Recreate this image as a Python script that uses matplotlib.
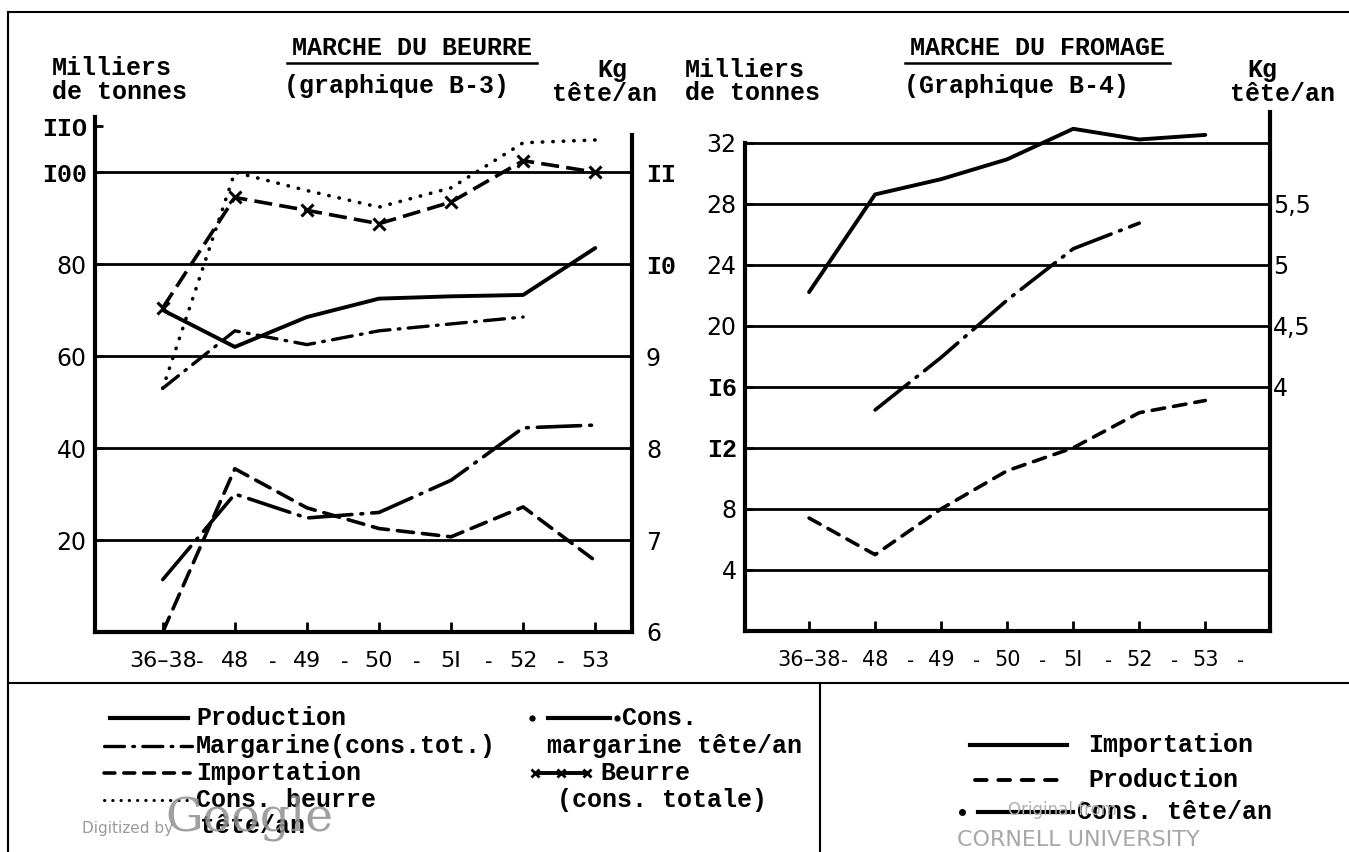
import numpy as np
import matplotlib
matplotlib.use("Agg")
import matplotlib.pyplot as plt

# ---- data ----
periods = ["36–38", "48", "49", "50", "5I", "52", "53"]

# Marche du beurre (graphique B-3), milliers de tonnes
beurre_production = [70, 62, 68.5, 72.5, 73, 73.3, 83.5]
beurre_importation = [0, 35.5, 27, 22.5, 20.7, 27.2, 15.5]
margarine_cons_tot = [53, 65.5, 62.5, 65.5, 67, 68.5, np.nan]
beurre_cons_totale = [70.5, 94.5, 91.7, 88.8, 93.5, 102.5, 100]
# kg tete/an (right scale)
beurre_cons_tete = [8.65, 11.0, 10.8, 10.62, 10.83, 11.32, 11.35]
margarine_cons_tete = [6.57, 7.5, 7.24, 7.3, 7.65, 8.22, 8.25]

# Marche du fromage (graphique B-4), milliers de tonnes
fromage_importation = [22.2, 28.6, 29.6, 30.9, 32.9, 32.2, 32.5]
fromage_production = [7.4, 5.0, 8.0, 10.5, 12.0, 14.3, 15.1]
# kg tete/an (right scale)
fromage_cons_tete = [np.nan, 3.81, 4.24, 4.71, 5.13, 5.34, np.nan]

b_left_ticks = [20, 40, 60, 80, 100, 110]
b_left_labels = ["20", "40", "60", "80", "I00", "IIO"]
b_right_ticks = [6, 7, 8, 9, 10, 11]
b_right_labels = ["6", "7", "8", "9", "I0", "II"]
f_left_ticks = [4, 8, 12, 16, 20, 24, 28, 32]
f_left_labels = ["4", "8", "I2", "I6", "20", "24", "28", "32"]
f_right_ticks = [4, 4.5, 5, 5.5]
f_right_labels = ["4", "4,5", "5", "5,5"]

MONO = "Liberation Mono"
SANS = "DejaVu Sans"
W, H = 1349, 852

fig = plt.figure(figsize=(W / 100, H / 100), dpi=100)


def px_axes(x0, y0, x1, y1):
    return fig.add_axes([x0 / W, 1 - y1 / H, (x1 - x0) / W, (y1 - y0) / H])


def tick_fonts(labels, size, roman=True):
    for t in labels:
        if roman and "I" in t.get_text():
            t.set_fontfamily(MONO)
            t.set_fontweight("bold")
            t.set_fontsize(size + 1)
        else:
            t.set_fontfamily(SANS)
            t.set_fontsize(size)


def style_pair(ax, ax2):
    for s in ["top", "right"]:
        ax.spines[s].set_visible(False)
    for s in ["top", "left", "bottom"]:
        ax2.spines[s].set_visible(False)
    for s in ["left", "bottom"]:
        ax.spines[s].set_linewidth(3)
    ax2.spines["right"].set_linewidth(3)
    ax.tick_params(axis="x", direction="in", length=7, width=2, pad=14)
    ax.tick_params(axis="y", direction="in", length=6, width=2, pad=6)
    ax2.tick_params(axis="y", length=0)


x = np.arange(len(periods))

# ---- beurre ----
axb = px_axes(95, 117, 632, 632)
axb2 = axb.twinx()
axb.set_xlim(-0.94, 6.51)
axb.set_ylim(0, 112)
axb2.set_ylim(6, 6 + 112 / 20)
style_pair(axb, axb2)
axb2.spines["right"].set_bounds(6, 11.4)
for v in b_left_ticks[:-1]:
    axb.axhline(v, color="k", lw=2, zorder=1)

axb.plot(x, beurre_production, color="k", lw=2.8, solid_capstyle="round")
axb.plot(x, beurre_importation, color="k", lw=2.6, ls=(0, (4.5, 2.5)), dash_capstyle="round")
axb.plot(x, margarine_cons_tot, color="k", lw=2.4, ls=(0, (6, 2.5, 0.5, 2.5)), dash_capstyle="round")
axb.plot(x, beurre_cons_totale, color="k", lw=2.6, ls=(0, (5, 2)),
         marker="x", ms=8, mew=2.2)
axb2.plot(x, beurre_cons_tete, color="k", lw=2.6, ls=(0, (0.1, 2.8)), dash_capstyle="round")
axb2.plot(x, margarine_cons_tete, color="k", lw=2.6, ls=(0, (12, 2.5, 0.5, 2.5)), dash_capstyle="round")

axb.set_xticks(x)
axb.set_xticklabels(periods)
axb.set_yticks(b_left_ticks)
axb.set_yticklabels(b_left_labels)
axb2.set_yticks(b_right_ticks)
axb2.set_yticklabels(b_right_labels)
axb2.tick_params(axis="y", pad=10)
tick_fonts(axb.get_xticklabels(), 16, roman=False)
tick_fonts(axb.get_yticklabels(), 17)
tick_fonts(axb2.get_yticklabels(), 17)
for i in range(len(periods) - 1):
    axb.text(i + 0.52, -0.058, "-", transform=axb.get_xaxis_transform(),
             ha="center", va="center", fontsize=15, family=SANS)

# ---- fromage ----
axf = px_axes(745, 112, 1270, 631)
axf2 = axf.twinx()
axf.set_xlim(-0.97, 6.98)
axf.set_ylim(0, 34)
axf2.set_ylim(2, 6.25)
style_pair(axf, axf2)
axf.spines["left"].set_bounds(0, 32)
for v in f_left_ticks:
    axf.axhline(v, color="k", lw=2, zorder=1)

axf.plot(x, fromage_importation, color="k", lw=2.8, solid_capstyle="round")
axf.plot(x, fromage_production, color="k", lw=2.6, ls=(0, (3.5, 2.5)), dash_capstyle="round")
axf2.plot(x, fromage_cons_tete, color="k", lw=2.6, ls=(0, (12, 2.5, 0.5, 2.5)), dash_capstyle="round")

axf.set_xticks(x)
axf.set_xticklabels(periods)
axf.set_yticks(f_left_ticks)
axf.set_yticklabels(f_left_labels)
axf2.set_yticks(f_right_ticks)
axf2.set_yticklabels(f_right_labels)
axf2.tick_params(axis="y", pad=2)
tick_fonts(axf.get_xticklabels(), 15, roman=False)
tick_fonts(axf.get_yticklabels(), 17)
tick_fonts(axf2.get_yticklabels(), 17)
for i in range(len(periods)):
    axf.text(i + 0.54, -0.058, "-", transform=axf.get_xaxis_transform(),
             ha="center", va="center", fontsize=14, family=SANS)

# ---- frame, titles and legends (pixel overlay) ----
ov = fig.add_axes([0, 0, 1, 1])
ov.set_xlim(0, W)
ov.set_ylim(H, 0)
ov.axis("off")
ov.patch.set_alpha(0)

ov.plot([8, W], [12, 12], color="k", lw=1.5)
ov.plot([8, 8], [12, H], color="k", lw=1.5)
ov.plot([8, W], [683, 683], color="k", lw=1.5)
ov.plot([820, 820], [683, H], color="k", lw=1.5)

txt = dict(family=MONO, fontweight="bold", fontsize=18, color="k")

ov.text(412, 48, "MARCHE DU BEURRE", ha="center", va="center", **txt)
ov.plot([287, 537], [63, 63], color="k", lw=1.8)
ov.text(397, 86, "(graphique B-3)", ha="center", va="center", **txt)
ov.text(52, 68, "Milliers", ha="left", va="center", **txt)
ov.text(52, 92, "de tonnes", ha="left", va="center", **txt)
ov.text(612, 70, "Kg", ha="center", va="center", **txt)
ov.text(605, 94, "tête/an", ha="center", va="center", **txt)

ov.text(1037, 48, "MARCHE DU FROMAGE", ha="center", va="center", **txt)
ov.plot([905, 1170], [63, 63], color="k", lw=1.8)
ov.text(1016, 86, "(Graphique B-4)", ha="center", va="center", **txt)
ov.text(685, 70, "Milliers", ha="left", va="center", **txt)
ov.text(685, 93, "de tonnes", ha="left", va="center", **txt)
ov.text(1262, 70, "Kg", ha="center", va="center", **txt)
ov.text(1282, 94, "tête/an", ha="center", va="center", **txt)

# legend beurre
ov.plot([110, 188], [718, 718], color="k", lw=3)
ov.text(196, 718, "Production", ha="left", va="center", **txt)
ov.plot([104, 192], [746, 746], color="k", lw=2.4, ls=(0, (6, 2.5, 0.5, 2.5)), dash_capstyle="round")
ov.text(196, 746, "Margarine(cons.tot.)", ha="left", va="center", **txt)
ov.plot([104, 190], [773, 773], color="k", lw=2.6, ls=(0, (3, 2.5)), dash_capstyle="round")
ov.text(196, 773, "Importation", ha="left", va="center", **txt)
ov.plot([104, 190], [800, 800], color="k", lw=2.2, ls=(0, (0.1, 2.6)), dash_capstyle="round")
ov.text(196, 800, "Cons. beurre", ha="left", va="center", **txt)
ov.text(200, 826, "tête/an", ha="left", va="center", **txt)

ov.plot([532, 617], [718, 718], color="k", lw=0, marker="o", ms=3.5)
ov.plot([548, 610], [718, 718], color="k", lw=3)
ov.text(622, 718, "Cons.", ha="left", va="center", **txt)
ov.text(547, 746, "margarine tête/an", ha="left", va="center", **txt)
ov.plot([535, 561, 587], [773, 773, 773], color="k", lw=2.8, marker="x", ms=6, mew=2)
ov.text(600, 773, "Beurre", ha="left", va="center", **txt)
ov.text(557, 800, "(cons. totale)", ha="left", va="center", **txt)

# legend fromage
ov.plot([970, 1067], [745, 745], color="k", lw=3)
ov.text(1088, 745, "Importation", ha="left", va="center", **txt)
ov.plot([975, 1063], [780, 780], color="k", lw=2.8, ls=(0, (3, 3)), dash_capstyle="round")
ov.text(1088, 780, "Production", ha="left", va="center", **txt)
ov.plot([962], [812], color="k", lw=0, marker="o", ms=4)
ov.plot([978, 1073], [812, 812], color="k", lw=3)
ov.text(1077, 812, "Cons. tête/an", ha="left", va="center", **txt)

# scan watermarks
ov.text(82, 828, "Digitized by", ha="left", va="center", family=SANS,
        fontsize=11, color="#9a9a9a")
ov.text(165, 818, "Google", ha="left", va="center", family="DejaVu Serif",
        fontsize=34, color="#8f8f8f", alpha=0.85)
ov.text(1062, 810, "Original from", ha="center", va="center", family=SANS,
        fontsize=12, color="#b0b0b0")
ov.text(1078, 840, "CORNELL UNIVERSITY", ha="center", va="center", family=SANS,
        fontsize=16, color="#a8a8a8")

fig.savefig("out.png", dpi=100)
